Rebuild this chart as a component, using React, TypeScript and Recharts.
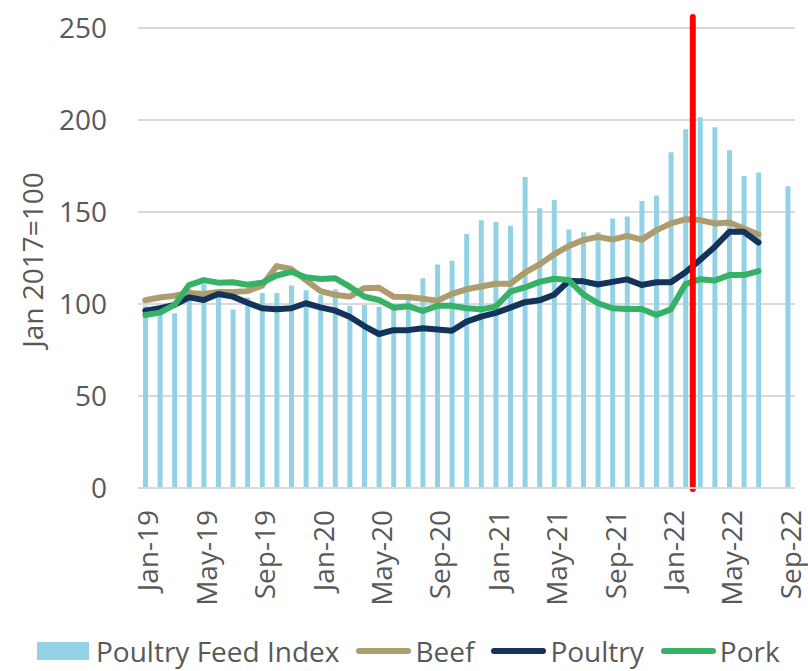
import { ComposedChart, Bar, Line, XAxis, YAxis, CartesianGrid, ReferenceLine, Legend } from 'recharts';

const months = [
  'Jan-19', 'Feb-19', 'Mar-19', 'Apr-19', 'May-19', 'Jun-19', 'Jul-19', 'Aug-19', 'Sep-19', 'Oct-19', 'Nov-19', 'Dec-19',
  'Jan-20', 'Feb-20', 'Mar-20', 'Apr-20', 'May-20', 'Jun-20', 'Jul-20', 'Aug-20', 'Sep-20', 'Oct-20', 'Nov-20', 'Dec-20',
  'Jan-21', 'Feb-21', 'Mar-21', 'Apr-21', 'May-21', 'Jun-21', 'Jul-21', 'Aug-21', 'Sep-21', 'Oct-21', 'Nov-21', 'Dec-21',
  'Jan-22', 'Feb-22', 'Mar-22', 'Apr-22', 'May-22', 'Jun-22', 'Jul-22', 'Aug-22', 'Sep-22',
];

const feedIndex = [
  99, 97, 95, 108, 111, 104, 97, 103.5, 106, 106, 110, 107.5,
  105, 108, 99, 99.5, 98.5, 100, 105, 114, 121.5, 123.5, 138, 145.5,
  144.5, 142.5, 169, 152, 156.5, 140.5, 139, 139, 146.5, 147.5, 156, 159,
  182.5, 195, 201.5, 196, 183.5, 169.5, 171.5, null, 164,
];

const beef = [
  102, 103.5, 104.5, 106, 105.5, 106.5, 106.5, 107, 110, 120.6, 119, 113,
  107, 105, 104, 108.6, 108.8, 104, 103.8, 102.8, 101.8, 105.5, 108, 109.5,
  111, 111, 117, 121.5, 127, 131.5, 134.7, 136.5, 135, 137, 135, 140,
  143.8, 146, 145.6, 143.8, 144.3, 141, 137.8, null, null,
];

const poultry = [
  96.4, 97.7, 99.5, 103.6, 102.2, 105.4, 104, 100.7, 97.7, 97.1, 97.7, 100.4,
  98.2, 96.4, 93.1, 88, 83.7, 85.8, 85.8, 86.8, 86.2, 85.5, 90.4, 93.1,
  95.2, 98, 101, 102, 105, 112.5, 112.3, 110.6, 112, 113.4, 110.3, 111.8,
  111.8, 117.3, 124, 131, 139.2, 139.2, 133.4, null, null,
];

const pork = [
  94, 95.3, 99.5, 110.3, 113, 111.6, 111.8, 110.5, 111.6, 115.5, 117.5, 114.5,
  113.6, 114, 109.4, 104, 102.2, 98, 98.8, 96.2, 99, 99, 97.7, 97.1,
  98.6, 106.7, 109, 112, 113.7, 113, 105.2, 100.4, 97.7, 97.3, 97.3, 94,
  97.1, 110.8, 113.5, 112.8, 115.7, 115.7, 117.9, null, null,
];

// red marker at the end of Feb-22 (between Feb and Mar)
const markerMonth = 'Feb-22';
const yTicks = [0, 50, 100, 150, 200, 250];

const data = months.map((month, i) => ({
  month,
  feed: feedIndex[i],
  beef: beef[i],
  poultry: poultry[i],
  pork: pork[i],
}));

const FONT = '"Open Sans", sans-serif';
const TEXT = '#595959';
const GRID = '#d9d9d9';
const FEED_COLOR = '#93d2e4';
const BEEF_COLOR = '#ac9c6e';
const POULTRY_COLOR = '#13335a';
const PORK_COLOR = '#36b267';

const MonthTick = ({ x, y, payload }: any) => (
  <text
    transform={`translate(${x + 2},${y}) rotate(-90)`}
    textAnchor="end"
    dominantBaseline="central"
    fontFamily={FONT}
    fontSize={28}
    fill={TEXT}
  >
    {payload.value}
  </text>
);

const YLabel = ({ viewBox }: any) => (
  <text
    transform={`translate(${viewBox.x + 43},${viewBox.y + viewBox.height / 2 + 2}) rotate(-90)`}
    textAnchor="middle"
    fontFamily={FONT}
    fontSize={28}
    fill={TEXT}
  >
    Jan 2017=100
  </text>
);

const legendItems = [
  { name: 'Poultry Feed Index', color: FEED_COLOR, kind: 'rect' },
  { name: 'Beef', color: BEEF_COLOR, kind: 'line' },
  { name: 'Poultry', color: POULTRY_COLOR, kind: 'line' },
  { name: 'Pork', color: PORK_COLOR, kind: 'line' },
];

const ChartLegend = () => (
  <div
    style={{
      display: 'flex',
      alignItems: 'center',
      paddingLeft: 37,
      height: 34,
      width: 808,
      boxSizing: 'border-box',
      whiteSpace: 'nowrap',
      overflow: 'visible',
    }}
  >
    {legendItems.map((item) => (
      <div key={item.name} style={{ display: 'flex', alignItems: 'center', marginRight: 17, flexShrink: 0 }}>
        {item.kind === 'rect' ? (
          <span style={{ display: 'block', width: 52, height: 18, background: item.color, marginRight: 7 }} />
        ) : (
          <span style={{ display: 'block', width: 55, height: 6, borderRadius: 3, background: item.color, marginRight: 4 }} />
        )}
        <span style={{ fontFamily: FONT, fontSize: 28, color: TEXT, lineHeight: '34px' }}>{item.name}</span>
      </div>
    ))}
  </div>
);

export default function App() {
  return (
    <div style={{ position: 'absolute', left: 0, top: 0 }}>
      <ComposedChart width={808} height={671} data={data} margin={{ top: 28, right: 13, bottom: 0, left: 0 }}>
        <CartesianGrid vertical={false} stroke={GRID} strokeWidth={2} />
        <XAxis
          dataKey="month"
          interval={3}
          tick={<MonthTick />}
          tickLine={false}
          tickSize={0}
          tickMargin={22}
          height={183}
          axisLine={{ stroke: GRID, strokeWidth: 2 }}
        />
        <YAxis
          domain={[0, 250]}
          ticks={yTicks}
          width={138}
          axisLine={false}
          tickLine={false}
          tickSize={0}
          tickMargin={31}
          tick={{ fill: TEXT, fontSize: 28, fontFamily: FONT }}
          label={<YLabel />}
        />
        <Bar dataKey="feed" name="Poultry Feed Index" fill={FEED_COLOR} barSize={5} isAnimationActive={false} />
        <Line dataKey="beef" name="Beef" stroke={BEEF_COLOR} strokeWidth={6} dot={false} strokeLinejoin="round" strokeLinecap="round" isAnimationActive={false} />
        <Line dataKey="poultry" name="Poultry" stroke={POULTRY_COLOR} strokeWidth={6} dot={false} strokeLinejoin="round" strokeLinecap="round" isAnimationActive={false} />
        <Line dataKey="pork" name="Pork" stroke={PORK_COLOR} strokeWidth={6} dot={false} strokeLinejoin="round" strokeLinecap="round" isAnimationActive={false} />
        <ReferenceLine
          segment={[{ x: markerMonth, y: -0.5 }, { x: markerMonth, y: 256 }]}
          position="end"
          ifOverflow="visible"
          stroke="#ff0000"
          strokeWidth={6}
          strokeLinecap="round"
        />
        <Legend
          content={<ChartLegend />}
          layout="horizontal"
          verticalAlign="middle"
          wrapperStyle={{ top: 634, left: 0, width: 808, height: 34 }}
        />
      </ComposedChart>
    </div>
  );
}
